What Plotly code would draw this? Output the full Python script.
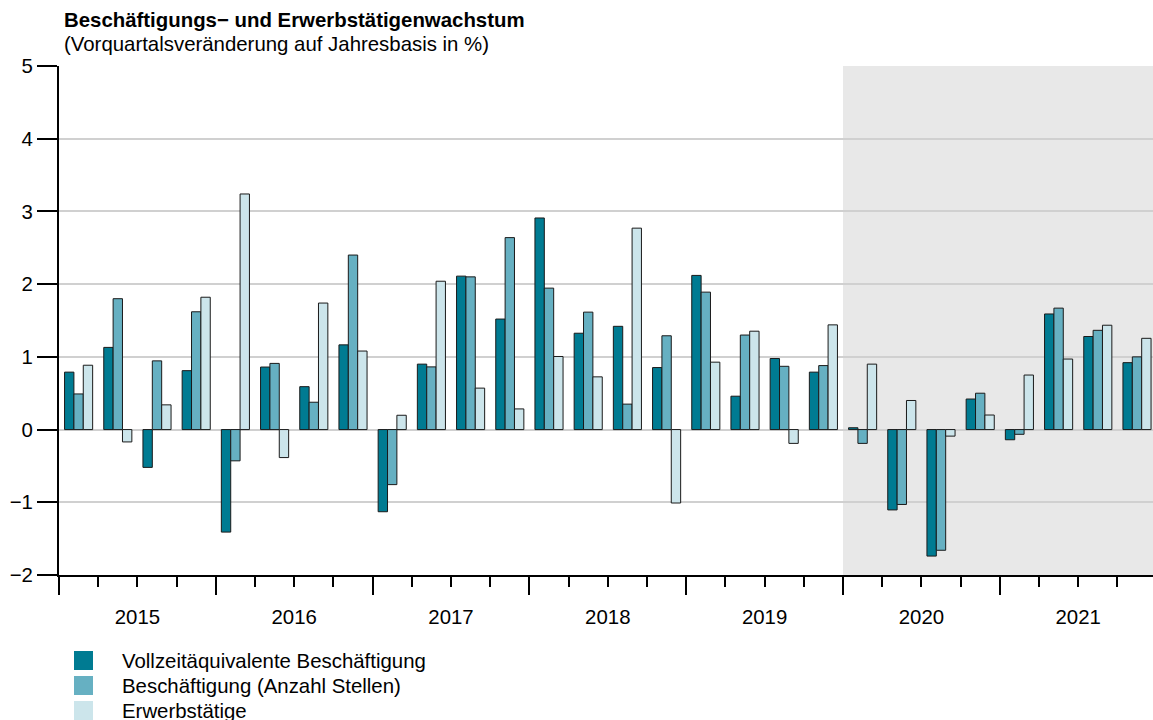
import plotly.graph_objects as go

years = ["2015", "2016", "2017", "2018", "2019", "2020", "2021"]
quarters = [f"{y} Q{q}" for y in years for q in range(1, 5)]

vollzeit = [0.79, 1.13, -0.52, 0.81,
            -1.41, 0.86, 0.59, 1.165,
            -1.13, 0.90, 2.11, 1.52,
            2.91, 1.325, 1.42, 0.853,
            2.12, 0.459, 0.977, 0.79,
            0.025, -1.105, -1.74, 0.42,
            -0.14, 1.59, 1.28, 0.92]
stellen = [0.49, 1.80, 0.945, 1.62,
           -0.43, 0.91, 0.376, 2.40,
           -0.757, 0.862, 2.10, 2.64,
           1.945, 1.615, 0.35, 1.29,
           1.89, 1.30, 0.87, 0.88,
           -0.19, -1.03, -1.66, 0.50,
           -0.065, 1.67, 1.365, 1.0]
erwerb = [0.885, -0.17, 0.34, 1.82,
          3.24, -0.385, 1.74, 1.08,
          0.197, 2.04, 0.57, 0.284,
          1.005, 0.725, 2.77, -1.01,
          0.927, 1.353, -0.19, 1.44,
          0.90, 0.40, -0.09, 0.20,
          0.75, 0.97, 1.435, 1.255]

series_names = ["Vollzeitäquivalente Beschäftigung",
                "Beschäftigung (Anzahl Stellen)",
                "Erwerbstätige"]
colors = ["#007B92", "#66B0C2", "#CCE5EB"]

FONT = "Liberation Sans, Arial, Helvetica, sans-serif"
FS = 20.4
W, H = 1153, 720
ML, MR, MT, MB = 59, 0, 66, 145
PW, PH = W - ML - MR, H - MT - MB
QW = 39.2  # quarter width in px (for the x range)

x = list(range(len(quarters)))
fig = go.Figure()
for name, vals, col in zip(series_names, [vollzeit, stellen, erwerb], colors):
    fig.add_trace(go.Bar(x=x, y=vals, name=name, marker_color=col,
                         marker_line_color="#1a1a1a", marker_line_width=1,
                         showlegend=False, hovertemplate="%{y}<extra>" + name + "</extra>"))
# invisible trace to anchor the second x-axis (year labels)
fig.add_trace(go.Scatter(x=[0], y=[0], xaxis="x2", mode="markers",
                         marker=dict(opacity=0), showlegend=False, hoverinfo="skip"))

n = len(quarters)
year_bounds = [i - 0.5 for i in range(0, n + 1, 4)]
quarter_bounds = [i - 0.5 for i in range(0, n + 1) if i % 4 != 0]
year_centers = [i + 1.5 for i in range(0, n, 4)]
xr = [-0.5, -0.5 + PW / QW]

shapes = [dict(type="rect", xref="x", yref="y", x0=19.5, x1=n + 1, y0=-2, y1=5,
               fillcolor="#E8E8E8", line_width=0, layer="below")]
annotations = [
    dict(text="<b>Beschäftigungs− und Erwerbstätigenwachstum</b>", xref="paper", yref="paper",
         x=(62 - ML) / PW, y=(H - MB - 20) / PH, xanchor="left", yanchor="middle",
         showarrow=False, font=dict(size=FS, color="black", family=FONT)),
    dict(text="(Vorquartalsveränderung auf Jahresbasis in %)", xref="paper", yref="paper",
         x=(62 - ML) / PW, y=(H - MB - 44) / PH, xanchor="left", yanchor="middle",
         showarrow=False, font=dict(size=FS, color="black", family=FONT)),
]
for k, (name, col) in enumerate(zip(series_names, colors)):
    cy = 660.5 + 25 * k
    shapes.append(dict(type="rect", xref="paper", yref="paper",
                       x0=(74 - ML) / PW, x1=(93 - ML) / PW,
                       y0=(H - MB - (cy + 9.5)) / PH, y1=(H - MB - (cy - 9.5)) / PH,
                       fillcolor=col, line_width=0))
    annotations.append(dict(text=name, xref="paper", yref="paper",
                            x=(120 - ML) / PW, y=(H - MB - cy) / PH,
                            xanchor="left", yanchor="middle", showarrow=False,
                            font=dict(size=FS, color="black", family=FONT)))

fig.update_layout(
    width=W, height=H,
    margin=dict(l=ML, r=MR, t=MT, b=MB),
    plot_bgcolor="white", paper_bgcolor="white",
    font=dict(family=FONT, size=FS, color="black"),
    barmode="group", bargap=0.283, bargroupgap=0,
    shapes=shapes, annotations=annotations,
    xaxis=dict(range=xr, tickmode="array", tickvals=year_bounds, showticklabels=False,
               ticks="outside", ticklen=18, tickwidth=2, tickcolor="black",
               showline=True, linecolor="black", linewidth=2, showgrid=False, zeroline=False,
               minor=dict(tickmode="array", tickvals=quarter_bounds, ticks="outside",
                          ticklen=10, tickwidth=1.5, tickcolor="black", showgrid=False)),
    xaxis2=dict(range=xr, overlaying="x", anchor="y", side="bottom",
                tickmode="array", tickvals=year_centers, ticktext=years,
                ticks="outside", ticklen=24, tickcolor="rgba(0,0,0,0)",
                showline=False, showgrid=False, zeroline=False,
                tickfont=dict(size=FS, color="black", family=FONT)),
    yaxis=dict(range=[-2, 5], tickmode="linear", tick0=0, dtick=1,
               ticks="outside", ticklen=20, tickwidth=2, tickcolor="black",
               showline=True, linecolor="black", linewidth=2,
               showgrid=True, gridcolor="#D0D0D0", gridwidth=1.5, zeroline=False,
               tickfont=dict(size=FS, color="black", family=FONT)),
)

fig.write_html("out.html", config={"displayModeBar": False},
               post_script="document.body.style.margin='0px';")
